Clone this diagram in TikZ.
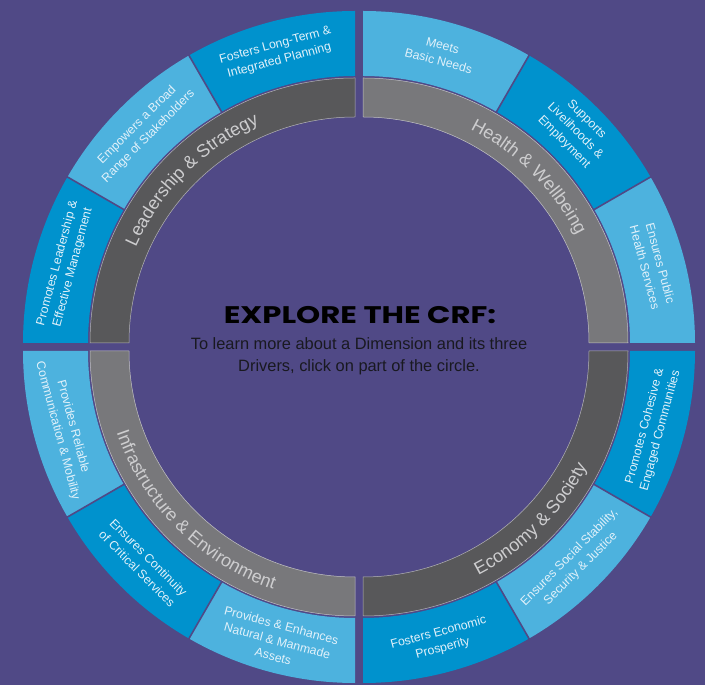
\documentclass[tikz,border=0pt]{standalone}
\usepackage{fontspec}
\setmainfont{Liberation Sans}
\newfontfamily\titlefont{Poppins}
\usetikzlibrary{decorations.text}
\definecolor{bg}{RGB}{80,73,134}
\definecolor{lblue}{RGB}{77,178,222}
\definecolor{dblue}{RGB}{0,146,205}
\definecolor{dgray}{RGB}{88,88,90}
\definecolor{mgray}{RGB}{120,120,123}
\definecolor{drvtext}{RGB}{225,241,250}
\definecolor{dimtext}{RGB}{205,205,207}
\definecolor{subtext}{RGB}{25,25,32}
\newcommand{\annsec}[5]{\path[#5] (#1:#3) arc[start angle=#1,end angle=#2,radius=#3] -- (#2:#4) arc[start angle=#2,end angle=#1,radius=#4] -- cycle;}
\newcommand{\dimfont}{\fontsize{18}{18}\selectfont\color{dimtext}}
\tikzset{
  drv/.style={align=center,text=drvtext,font=\fontsize{12.3}{16}\selectfont,inner sep=0pt},
  sepline/.style={draw=bg,line width=1.6pt},
  grayring/.style={draw=white!55!#1,line width=0.5pt,fill=#1},
  dimlabel/.style={decorate,decoration={text along path,text align=center,text={#1}}}
}
\begin{document}
\begin{tikzpicture}
\useasboundingbox (0,0) rectangle (705pt,685pt);
\fill[bg] (0,0) rectangle (705pt,685pt);
% ---------- top-left quadrant
\begin{scope}[shift={(355pt,342pt)}]
  \annsec{90}{180}{226pt}{265pt}{grayring=dgray}
  \annsec{90}{120}{267pt}{332pt}{fill=dblue}
  \annsec{120}{150}{267pt}{332pt}{fill=lblue}
  \annsec{150}{180}{267pt}{332pt}{fill=dblue}
  \draw[sepline] (120:266pt) -- (120:333pt) (150:266pt) -- (150:333pt);
  \node[drv,rotate=15] (d1) at (105:300pt) {Fosters Long-Term \&\\Integrated Planning};
  \node[drv,rotate=45] (d2) at (135:300pt) {Empowers a Broad\\Range of Stakeholders};
  \node[drv,rotate=75] (d3) at (165:300pt) {Promotes Leadership \&\\Effective Management};
  \path[dimlabel={|\dimfont|Leadership {\&} Strategy}] (180:239pt) arc[start angle=180,end angle=90,radius=239pt];
\end{scope}
% ---------- top-right quadrant
\begin{scope}[shift={(363pt,342pt)}]
  \annsec{0}{90}{226pt}{265pt}{grayring=mgray}
  \annsec{0}{30}{267pt}{332pt}{fill=lblue}
  \annsec{30}{60}{267pt}{332pt}{fill=dblue}
  \annsec{60}{90}{267pt}{332pt}{fill=lblue}
  \draw[sepline] (30:266pt) -- (30:333pt) (60:266pt) -- (60:333pt);
  \node[drv,rotate=-15] (d4) at (75:300pt) {Meets\\Basic Needs};
  \node[drv,rotate=-45] (d5) at (45:300pt) {Supports\\Livelihoods \&\\Employment};
  \node[drv,rotate=-75] (d6) at (15:300pt) {Ensures Public\\Health Services};
  \path[dimlabel={|\dimfont|Health {\&} Wellbeing}] (90:239pt) arc[start angle=90,end angle=0,radius=239pt];
\end{scope}
% ---------- bottom-right quadrant
\begin{scope}[shift={(363pt,334pt)}]
  \annsec{-90}{0}{226pt}{265pt}{grayring=dgray}
  \annsec{-30}{0}{267pt}{332pt}{fill=dblue}
  \annsec{-60}{-30}{267pt}{332pt}{fill=lblue}
  \annsec{-90}{-60}{267pt}{332pt}{fill=dblue}
  \draw[sepline] (-30:266pt) -- (-30:333pt) (-60:266pt) -- (-60:333pt);
  \node[drv,rotate=75] (d7) at (-15:300pt) {Promotes Cohesive \&\\Engaged Communities};
  \node[drv,rotate=45] (d8) at (-45:300pt) {Ensures Social Stability,\\Security \& Justice};
  \node[drv,rotate=15] (d9) at (-75:300pt) {Fosters Economic\\Prosperity};
  \path[dimlabel={|\dimfont|Economy {\&} Society}] (-90:252pt) arc[start angle=-90,end angle=0,radius=252pt];
\end{scope}
% ---------- bottom-left quadrant
\begin{scope}[shift={(355pt,334pt)}]
  \annsec{180}{270}{226pt}{265pt}{grayring=mgray}
  \annsec{180}{210}{267pt}{332pt}{fill=lblue}
  \annsec{210}{240}{267pt}{332pt}{fill=dblue}
  \annsec{240}{270}{267pt}{332pt}{fill=lblue}
  \draw[sepline] (210:266pt) -- (210:333pt) (240:266pt) -- (240:333pt);
  \node[drv,rotate=-75] (d10) at (195:300pt) {Provides Reliable\\Communication \& Mobility};
  \node[drv,rotate=-45] (d11) at (225:300pt) {Ensures Continuity\\of Critical Services};
  \node[drv,rotate=-15] (d12) at (255:300pt) {Provides \& Enhances\\Natural \& Manmade\\Assets};
  \path[dimlabel={|\dimfont|Infrastructure {\&} Environment}] (180:252pt) arc[start angle=180,end angle=270,radius=252pt];
\end{scope}
% ---------- centre text
\node[inner sep=0pt,text=black,font=\titlefont\bfseries\fontsize{24}{24}\selectfont] (title) at (360pt,370pt) {\scalebox{1.28}[1]{EXPLORE THE CRF:}};
\node[inner sep=0pt,align=center,text=subtext,font=\fontsize{16.4}{22}\selectfont] (sub) at (359pt,329pt) {To learn more about a Dimension and its three\\Drivers, click on part of the circle.};
\end{tikzpicture}
\end{document}
